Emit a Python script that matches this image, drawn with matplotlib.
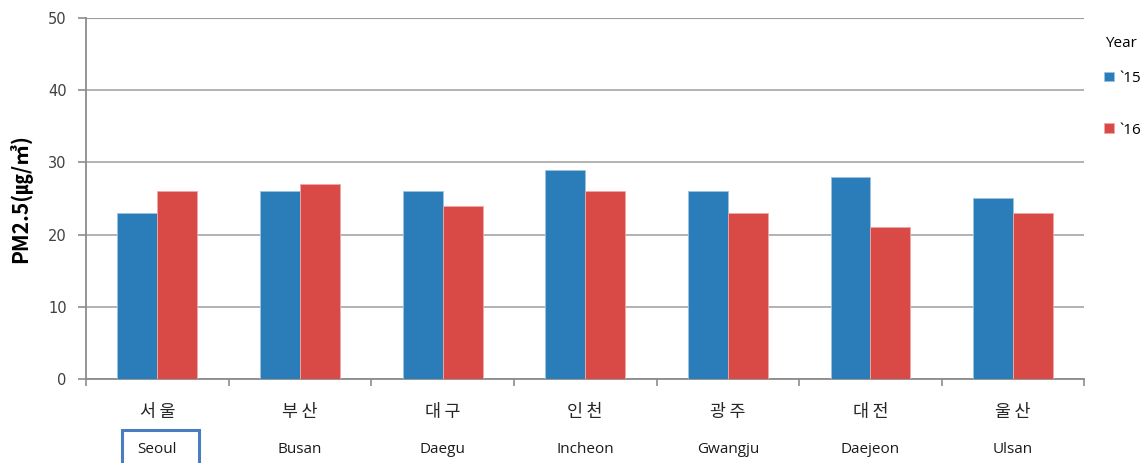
import matplotlib.pyplot as plt
import matplotlib.patches as mpatches
import matplotlib.transforms as mtransforms
import numpy as np

# 데이터
cities_kr = ['서울', '부산', '대구', '인천', '광주', '대전', '울산']
cities_en = ['Seoul', 'Busan', 'Daegu', 'Incheon', 'Gwangju', 'Daejeon', 'Ulsan']
pm_2015 = [23, 26, 26, 29, 26, 28, 25]
pm_2016 = [26, 27, 24, 26, 23, 21, 23]
years = ['`15', '`16']

c15, c16 = '#2A7DB8', '#D94A47'
grid_c = '#A6A6A6'

fig = plt.figure(figsize=(11.41, 4.63), dpi=100)
ax = fig.add_axes([0.0754, 0.1814, 0.875, 0.780])

x = np.arange(len(cities_kr))
w = 0.28
b1 = ax.bar(x - w/2, pm_2015, w, color=c15, edgecolor='#9CC3E0', linewidth=0.6, label=years[0], zorder=3)
b2 = ax.bar(x + w/2, pm_2016, w, color=c16, edgecolor='#F0A8A6', linewidth=0.6, label=years[1], zorder=3)

ax.set_xlim(-0.5, len(x) - 0.5)
ax.set_ylim(0, 50)
ax.set_yticks(np.arange(0, 51, 10))
ax.yaxis.grid(True, color=grid_c, linewidth=1.2, zorder=0)
for s in ['top', 'right']:
    ax.spines[s].set_visible(False)
for s in ['left', 'bottom']:
    ax.spines[s].set_color('#8C8C8C')
    ax.spines[s].set_linewidth(1.3)
ax.axhline(50, color='#6F6F6F', linewidth=1.5, zorder=1)

ax.set_xticks(np.arange(-0.5, len(x), 1.0))
ax.set_xticklabels([])
ax.tick_params(axis='x', length=5, width=1.2, color='#8C8C8C', direction='out')
ax.tick_params(axis='y', length=6, width=1.2, color='#8C8C8C', labelsize=10.5,
               labelcolor='#404040', pad=8)

ax.set_ylabel('PM2.5(㎍/㎥)', fontsize=15, fontweight='bold',
              family=['Noto Sans CJK KR', 'DejaVu Sans'], labelpad=12)

# 도시명 (한글 / 영문)
trans = mtransforms.blended_transform_factory(ax.transData, ax.transAxes)
for i in x:
    ax.text(i, -0.09, '\u2009'.join(cities_kr[i]), transform=trans, ha='center', va='center',
            fontsize=12.5, family=['Noto Sans CJK KR', 'DejaVu Sans'], color='#262626')
    ax.text(i, -0.195, cities_en[i], transform=trans, ha='center', va='center',
            fontsize=11, family='Open Sans', color='#1A1A1A')

# 서울 강조 박스
box = mpatches.Rectangle((-0.25, -0.245), 0.545, 0.105, transform=trans, fill=False,
                         edgecolor='#4A7CC0', linewidth=2.2, clip_on=False)
ax.add_patch(box)

ax.text(1.021, 0.93, 'Year', transform=ax.transAxes, ha='left', va='center',
        fontsize=11, family='Open Sans')
leg = ax.legend(loc='upper left', bbox_to_anchor=(1.014, 0.87),
                frameon=False, handlelength=0.6, handleheight=0.6, handletextpad=0.4,
                labelspacing=2.4, borderaxespad=0,
                prop={'family': 'Open Sans', 'size': 11})

fig.savefig('out.png', dpi=100)
